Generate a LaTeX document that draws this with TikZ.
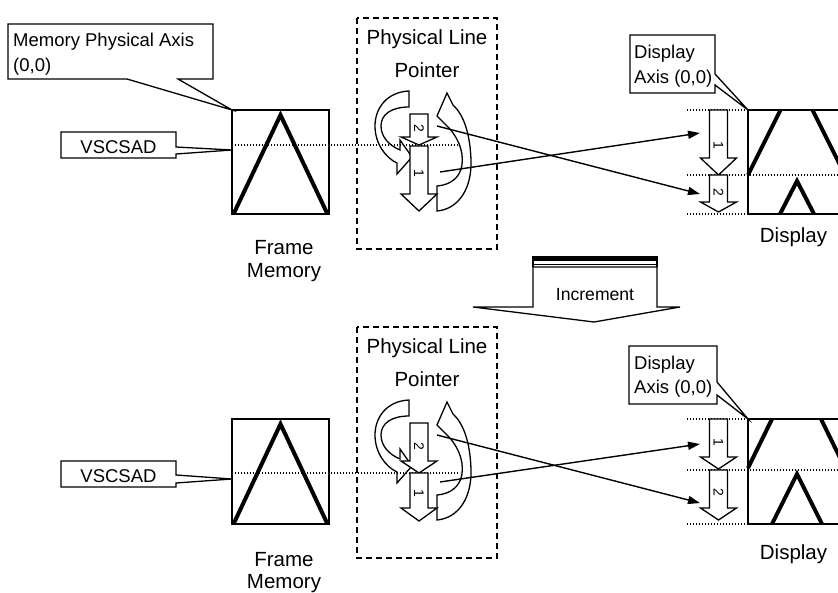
\documentclass[tikz,border=0pt]{standalone}
\usepackage{fontspec}
\setmainfont{Liberation Sans}
\usetikzlibrary{arrows.meta}
\newcommand{\dnarr}[4]{% center x, top, head base, tip
  \draw[blk] ({#1-9},#2) -- ({#1+9},#2) -- ({#1+9},#3) -- ({#1+18},#3) -- (#1,#4) -- ({#1-18},#3) -- ({#1-9},#3) -- cycle;}
\begin{document}
\begin{tikzpicture}[x=1pt,y=-1pt,
  ln/.style={line width=1.3pt, line join=miter},
  tri/.style={line width=4pt, line join=miter},
  dotl/.style={line width=1.2pt, dash pattern=on 1.3pt off 1.7pt},
  dbox/.style={line width=1.4pt, dash pattern=on 6pt off 4pt},
  blk/.style={draw, fill=white, line width=1.3pt, line join=miter},
  callout/.style={draw, fill=white, line width=1.3pt, line join=miter},
  conn/.style={line width=1.4pt, -{Triangle[length=12pt,width=8pt]}},
  lbl/.style={font=\fontsize{20.5}{24}\selectfont, anchor=base, inner sep=0},
  clbl/.style={font=\fontsize{18.5}{22}\selectfont, anchor=base west, inner sep=0},
  cclbl/.style={font=\fontsize{18.5}{22}\selectfont, anchor=base, inner sep=0},
  inclbl/.style={font=\fontsize{17.6}{20}\selectfont, anchor=base, inner sep=0},
  dig/.style={font=\fontsize{14}{14}\selectfont, rotate=-90, inner sep=0}
]
\useasboundingbox (0,0) rectangle (838,592);
\fill[white] (0,0) rectangle (838,592);

% ================= TOP SECTION =================
% Memory Physical Axis callout
\coordinate (fmTL) at (232,110);
\draw[callout] (8,24) -- (213,24) -- (213,79) -- (178,79) -- (fmTL) -- (127,79) -- (8,79) -- cycle;
\node[clbl] (mpa1) at (13,46) {Memory Physical Axis};
\node[clbl] (mpa2) at (13,71) {(0,0)};

% Frame memory
\draw[ln] (232,110) rectangle (329,214);
\draw[tri] (234,213) -- (280.5,115) -- (327,213);
\node[lbl] (fm1) at (284,254) {Frame};
\node[lbl] (fm2) at (284,277) {Memory};

% VSCSAD callout
\coordinate (vsA) at (232,150);
\draw[callout] (61,132) -- (176,132) -- (176,147) -- (vsA) -- (176,154) -- (176,158) -- (61,158) -- cycle;
\node[cclbl] (vs1) at (118.5,153) {VSCSAD};

% Physical line pointer
\draw[dbox] (357,18) rectangle (497,249);
\node[lbl] (plp1) at (427,44) {Physical Line};
\node[lbl] (plp2) at (427,77) {Pointer};

\begin{scope}
\draw[blk] (409,91) .. controls (387,92) and (375,108) .. (375,126) .. controls (375,144) and (386,158) .. (397,163) -- (397,174) -- (412,157) -- (400,140) -- (400,150) .. controls (388,145) and (381,136) .. (381,126) .. controls (381,114) and (392,107) .. (409,107) -- cycle;
\draw[blk] (437,186) -- (437,211) .. controls (459,209) and (472,188) .. (471,160) .. controls (470,132) and (463,114) .. (453,105) -- (447,93) -- (437,116) -- (445,124) .. controls (457,135) and (464,150) .. (462,165) .. controls (460,178) and (450,185) .. (437,186) -- cycle;
\end{scope}
\draw[dotl] (235,145) -- (460,145);
\dnarr{419}{114}{137}{145}
\dnarr{419}{146}{194}{211}
\node[dig] (pt2) at (419,128) {2};
\node[dig] (pt1) at (419,173) {1};

% Display
\draw[dotl] (687,110) -- (748,110);
\draw[dotl] (687,175) -- (850,175);
\draw[dotl] (687,214) -- (748,214);
\draw[ln] (850,110) -- (748,110) -- (748,214) -- (850,214);
\draw[tri] (748,175) -- (780.5,110);
\draw[tri] (812.5,110) -- (845,175);
\draw[tri] (780,214) -- (797,181) -- (814,214);
\node[lbl] (dsp1) at (793.5,242) {Display};
\coordinate (dTL) at (748,110);
\draw[callout] (630,35) -- (715,35) -- (715,74) -- (dTL) -- (715,85) -- (715,93) -- (630,93) -- cycle;
\node[clbl] (da1) at (634,58) {Display};
\node[clbl] (da2) at (634,83) {Axis (0,0)};
\dnarr{718.5}{110}{158}{175}
\dnarr{718.5}{175}{202}{212}
\node[dig] (dt1) at (718.5,145) {1};
\node[dig] (dt2) at (718.5,192) {2};

% connectors
\coordinate (pa2) at (437,126);
\coordinate (pa1) at (440,172);
\coordinate (da2t) at (700,194);
\coordinate (da1t) at (700,133);
\draw[conn] (pa2) -- (da2t);
\draw[conn] (pa1) -- (da1t);

% ================= INCREMENT =================
\draw[blk] (533,267) -- (533,307) -- (473,307) -- (594,322) -- (680,307) -- (657,307) -- (657,267) -- cycle;
\fill (533,256) rectangle (657,261);
\draw[line width=1.6pt] (533,264.5) -- (657,264.5);
\draw[ln] (533,256) -- (533,267) (657,256) -- (657,267);
\node[inclbl] (inc) at (595,300) {Increment};

% ================= BOTTOM SECTION =================
\draw[ln] (232,419) rectangle (329,524);
\draw[tri] (234,523) -- (280.5,424) -- (327,523);
\node[lbl] (fm3) at (284,566) {Frame};
\node[lbl] (fm4) at (284,588) {Memory};

\coordinate (vsB) at (232,479);
\draw[callout] (61,461) -- (176,461) -- (176,475) -- (vsB) -- (176,483) -- (176,487) -- (61,487) -- cycle;
\node[cclbl] (vs2) at (118.5,482) {VSCSAD};

\draw[dbox] (357,327) rectangle (497,558);
\node[lbl] (plp3) at (427,353) {Physical Line};
\node[lbl] (plp4) at (427,386) {Pointer};

\begin{scope}[shift={(0,309)}]
\draw[blk] (409,91) .. controls (387,92) and (375,108) .. (375,126) .. controls (375,144) and (386,158) .. (397,163) -- (397,174) -- (412,157) -- (400,140) -- (400,150) .. controls (388,145) and (381,136) .. (381,126) .. controls (381,114) and (392,107) .. (409,107) -- cycle;
\draw[blk] (437,186) -- (437,211) .. controls (459,209) and (472,188) .. (471,160) .. controls (470,132) and (463,114) .. (453,105) -- (447,93) -- (437,116) -- (445,124) .. controls (457,135) and (464,150) .. (462,165) .. controls (460,178) and (450,185) .. (437,186) -- cycle;
\end{scope}
\draw[dotl] (235,473) -- (460,473);
\dnarr{419}{423}{461}{473}
\dnarr{419}{473}{508}{521}
\node[dig] (pb2) at (419,446) {2};
\node[dig] (pb1) at (419,493) {1};

\draw[dotl] (687,419) -- (748,419);
\draw[dotl] (687,470) -- (850,470);
\draw[dotl] (687,524) -- (748,524);
\draw[ln] (850,419) -- (748,419) -- (748,524) -- (850,524);
\draw[tri] (748,468) -- (772,419);
\draw[tri] (821,419) -- (845,468);
\draw[tri] (772,524) -- (797,474) -- (822,524);
\node[lbl] (dsp2) at (793.5,559) {Display};
\coordinate (dBL) at (748,419);
\draw[callout] (629,346) -- (717,346) -- (717,382) -- (dBL) -- (717,395) -- (717,404) -- (629,404) -- cycle;
\node[clbl] (da3) at (634,369) {Display};
\node[clbl] (da4) at (634,393) {Axis (0,0)};
\dnarr{718.5}{419}{457}{469}
\dnarr{718.5}{470}{508}{520}
\node[dig] (db1) at (718.5,442) {1};
\node[dig] (db2) at (718.5,492) {2};

\coordinate (pb2a) at (437,435);
\coordinate (pb1a) at (440,482);
\coordinate (db2t) at (700,503);
\coordinate (db1t) at (700,444);
\draw[conn] (pb2a) -- (db2t);
\draw[conn] (pb1a) -- (db1t);
\end{tikzpicture}
\end{document}
